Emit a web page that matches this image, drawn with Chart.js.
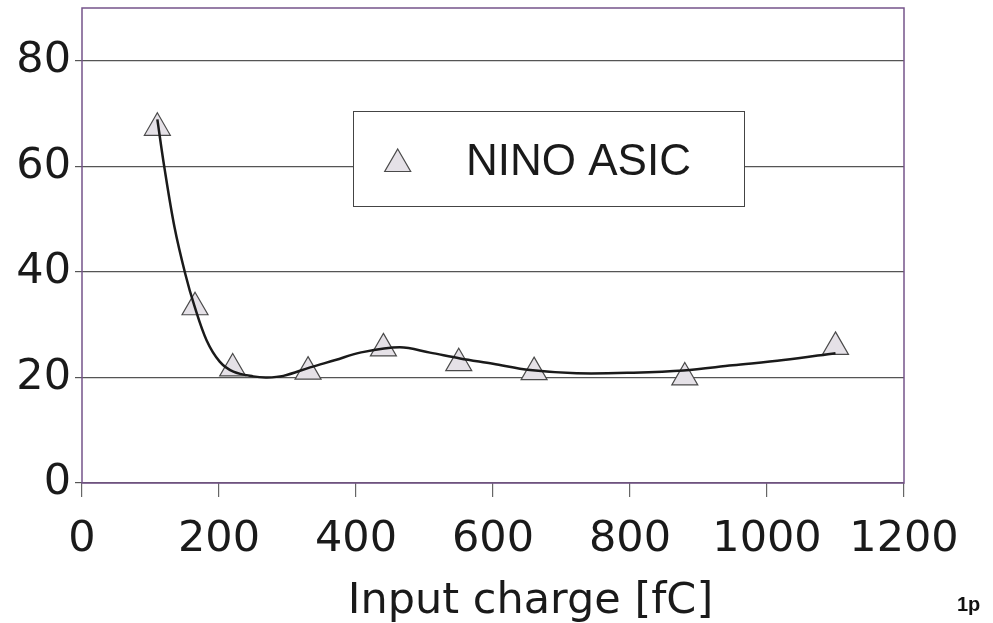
<!DOCTYPE html>
<html>
<head>
<meta charset="utf-8">
<script src="https://cdn.jsdelivr.net/npm/chart.js"></script>
<style>
  html, body { margin: 0; padding: 0; background: #fff; }
  canvas { display: block; }
</style>
</head>
<body>
<canvas id="c" width="993" height="623"></canvas>
<script>
// Measured points (NINO ASIC)
const chargeX = [110, 165, 220, 330, 440, 550, 660, 880, 1100];
const ninoY   = [67.3, 33.3, 21.7, 21.1, 25.5, 22.7, 21.0, 20.0, 25.8];
// Trend curve
const fitX = [110, 120, 135, 151, 164, 182, 201, 221, 250, 270, 294, 333, 370, 406, 464, 508, 552, 600, 654, 722, 805, 878, 950, 1024, 1100];
const fitY = [68.9, 60, 48.5, 39.5, 33.6, 27.0, 23.0, 21.1, 20.2, 20.0, 20.3, 21.9, 23.3, 24.7, 25.7, 24.7, 23.6, 22.6, 21.4, 20.8, 20.9, 21.3, 22.3, 23.3, 24.6];
const xTicks = [0, 200, 400, 600, 800, 1000, 1200];
const yTicks = [0, 20, 40, 60, 80];
const seriesLabel = 'NINO ASIC';
const xTitle = 'Input charge [fC]';
const cornerNote = '1p';

const tickFont = { family: "'DejaVu Sans', sans-serif", size: 43 };
const markerFill = '#e5e1e7';
const markerEdge = '#4a4a4a';

function triangle(ctx, x, y, r) {
  ctx.beginPath();
  for (let i = 0; i < 3; i++) {
    const a = i * 2 * Math.PI / 3;
    const px = x + Math.sin(a) * r, py = y - Math.cos(a) * r;
    if (i === 0) ctx.moveTo(px, py); else ctx.lineTo(px, py);
  }
  ctx.closePath();
}

const deco = {
  id: 'deco',
  afterDraw(chart) {
    const ctx = chart.ctx, ca = chart.chartArea;
    ctx.save();
    // plot frame
    ctx.strokeStyle = '#76548a';
    ctx.lineWidth = 1.5;
    ctx.strokeRect(ca.left, ca.top, ca.right - ca.left, ca.bottom - ca.top);
    // legend box
    ctx.fillStyle = '#ffffff';
    ctx.fillRect(353.5, 111.5, 391, 95);
    ctx.strokeStyle = '#444';
    ctx.lineWidth = 1;
    ctx.strokeRect(353.5, 111.5, 391, 95);
    triangle(ctx, 397.7, 164, 15);
    ctx.fillStyle = markerFill; ctx.fill();
    ctx.strokeStyle = markerEdge; ctx.lineWidth = 1.2; ctx.stroke();
    ctx.fillStyle = '#1a1a1a';
    ctx.font = "44px 'Liberation Sans', Arial, sans-serif";
    ctx.textAlign = 'left'; ctx.textBaseline = 'alphabetic';
    ctx.fillText(chart.data.datasets[1].label, 466, 175);
    // axis title
    ctx.font = "43px 'DejaVu Sans', sans-serif";
    ctx.textAlign = 'center';
    ctx.fillText(xTitle, 530.5, 613);
    // corner note
    ctx.font = "bold 20px 'Liberation Sans', Arial, sans-serif";
    ctx.textAlign = 'left';
    ctx.fillStyle = '#111';
    ctx.fillText(cornerNote, 957, 611);
    ctx.restore();
  }
};

const chart = new Chart(document.getElementById('c'), {
  type: 'scatter',
  data: {
    datasets: [
      {
        label: 'fit',
        data: fitX.map((x, i) => ({ x, y: fitY[i] })),
        showLine: true,
        borderColor: '#1a1a1a',
        borderWidth: 2.5,
        pointRadius: 0,
        tension: 0.35,
        clip: false
      },
      {
        label: seriesLabel,
        data: chargeX.map((x, i) => ({ x, y: ninoY[i] })),
        showLine: false,
        pointStyle: 'triangle',
        pointRadius: 15,
        pointBackgroundColor: markerFill,
        pointBorderColor: markerEdge,
        pointBorderWidth: 1.2,
        clip: false
      }
    ]
  },
  options: {
    responsive: false,
    animation: false,
    devicePixelRatio: 1,
    layout: { padding: { top: 8, right: 89, left: 0, bottom: 0 } },
    plugins: { legend: { display: false }, tooltip: { enabled: false } },
    scales: {
      x: {
        type: 'linear', min: 0, max: 1200,
        afterBuildTicks: (s) => { s.ticks = xTicks.map(v => ({ value: v })); },
        ticks: { font: tickFont, color: '#1a1a1a', padding: 17, maxRotation: 0, autoSkip: false,
                 callback: (v) => String(v) },
        grid: { drawOnChartArea: false, drawTicks: true, tickLength: 14, color: '#666', lineWidth: 1.2 },
        border: { display: false },
        afterFit: (s) => { s.height = 140; s.paddingLeft = 0; s.paddingRight = 0; }
      },
      y: {
        min: 0, max: 90,
        afterBuildTicks: (s) => { s.ticks = yTicks.map(v => ({ value: v })); },
        ticks: { font: tickFont, color: '#1a1a1a', padding: 4, callback: (v) => String(v) },
        grid: { color: '#555', tickLength: 7, lineWidth: 1.2 },
        border: { display: false },
        afterFit: (s) => { s.width = 82; s.paddingTop = 0; s.paddingBottom = 0; }
      }
    }
  },
  plugins: [deco]
});
// the markers must not push the plot frame down from the top edge
chart.data.datasets.forEach((d, i) => {
  chart.getDatasetMeta(i).controller.getMaxOverflow = () => 0;
});
chart.update();
</script>
</body>
</html>
